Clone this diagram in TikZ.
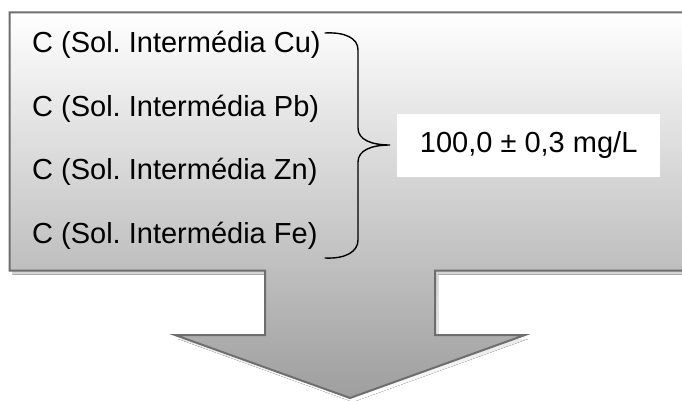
\documentclass[tikz,border=0pt]{standalone}
\usepackage{fontspec}
\setmainfont{Liberation Sans}
\usepackage{xcolor}
\definecolor{outline}{HTML}{6E6E6E}
\definecolor{shade}{HTML}{D0D0D0}
\usetikzlibrary{%
    positioning,
    shadows,
    calc
}
\frenchspacing

\begin{document}
\begin{tikzpicture}[x=1pt, y=1pt,
                conc/.style={inner sep=0pt, font=\fontsize{29}{34}\selectfont},
                result/.style={rectangle, fill=white, minimum width=263pt, minimum height=63pt, inner sep=0pt, text centered, font=\fontsize{29}{34}\selectfont},
                callout/.style={draw=outline, line width=2pt, top color=white, bottom color=black!38},
                brace/.style={draw, line width=1.4pt, line cap=round}
            ]

            \useasboundingbox (0,0) rectangle (682,400);
            \clip (0,0) rectangle (682,400);

            % box with arrow, runs off the right side
            \fill [shade] ($(9.5,387.5)+(3,-4)$) -- ++(760,0) -- ++(0,-258) -- ++(-334.5,0) -- ++(0,-64.5) -- ++(90,0) -- ++(-175,-63) -- ++(-175,63) -- ++(90,0) -- ++(0,64.5) -- ++(-255.5,0) -- cycle;
            \path [callout] (9.5,387.5) -- (770,387.5) -- (770,129.5) -- (435,129.5) -- (435,65) -- (525,65)
                -- (350,2) -- (175,65) -- (265,65) -- (265,129.5) -- (9.5,129.5) -- cycle;

            \node (cu) [conc, anchor=base west] at (32,347.6) {C (Sol. Intermédia Cu)};
            \node (pb) [conc, below=36pt of cu.south west, anchor=north west] {C (Sol. Intermédia Pb)};
            \node (zn) [conc, below=36pt of pb.south west, anchor=north west] {C (Sol. Intermédia Zn)};
            \node (fe) [conc, below=36pt of zn.south west, anchor=north west] {C (Sol. Intermédia Fe)};

            \coordinate (bracetop) at (325,367);
            \coordinate (bracetip) at (390,255);
            \coordinate (bracebot) at (325,142);

            \node (valor) [result, right=7pt of bracetip, anchor=west] {100,0 ± 0,3 mg/L};

            \draw [brace] (bracetop) .. controls +(20,1) and +(0,12) .. (358,350) -- (358,272)
                .. controls +(0,-12) and +(-18,0) .. (bracetip)
                .. controls +(-18,0) and +(0,12) .. (358,238) -- (358,160)
                .. controls +(0,-12) and +(20,-1) .. (bracebot);
        \end{tikzpicture}
\end{document}
